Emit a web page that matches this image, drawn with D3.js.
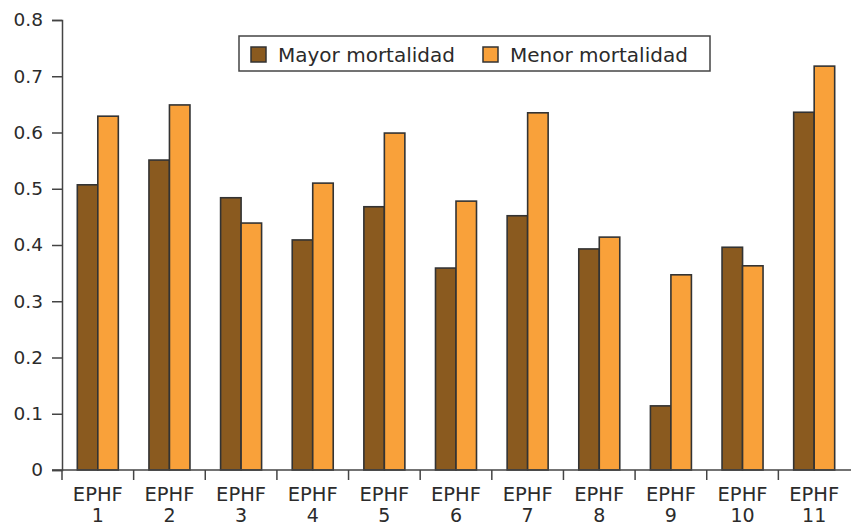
<!DOCTYPE html>
<html>
<head>
<meta charset="utf-8">
<script src="https://cdn.jsdelivr.net/npm/d3@7"></script>
<style>
	body { margin: 0; background: #fff; }
	text { font-family: "DejaVu Sans", sans-serif; fill: #2b2b2b; }
</style>
</head>
<body>
<div id="chart"></div>
<script>

// Data

var categories = ["1", "2", "3", "4", "5", "6", "7", "8", "9", "10", "11"];
var seriesNames = ["Mayor mortalidad", "Menor mortalidad"];
var mayor = [0.507, 0.551, 0.484, 0.409, 0.468, 0.359, 0.452, 0.393, 0.114, 0.396, 0.636];
var menor = [0.629, 0.649, 0.439, 0.510, 0.599, 0.478, 0.635, 0.414, 0.347, 0.363, 0.718];
var yTicks = [0, 0.1, 0.2, 0.3, 0.4, 0.5, 0.6, 0.7, 0.8];
var colors = ["#8a5a1f", "#f9a13a"];

var width = 851, height = 527;
var margin = {top: 20, right: 1, bottom: 57, left: 62};

var svg = d3.select("#chart").append("svg")
	.attr("width", width)
	.attr("height", height);

var x = d3.scaleBand()
	.domain(categories)
	.range([margin.left, width - margin.right])
	.paddingInner(0)
	.paddingOuter(0);

var y = d3.scaleLinear()
	.domain([0, 0.8])
	.range([height - margin.bottom, margin.top]);

var barW = 20.5;

var rows = categories.map(function (c, i) {
	return {cat: c, values: [mayor[i], menor[i]]};
});

// Bars
var groups = svg.selectAll("g.group")
	.data(rows)
	.enter().append("g")
	.attr("class", "group");

groups.selectAll("rect")
	.data(function (d) {
		return d.values.map(function (v, k) { return {cat: d.cat, v: v, k: k}; });
	})
	.enter().append("rect")
	.attr("x", function (d) { return x(d.cat) + x.bandwidth() / 2 - barW + d.k * barW; })
	.attr("y", function (d) { return y(d.v); })
	.attr("width", barW)
	.attr("height", function (d) { return y(0) - y(d.v); })
	.style("fill", function (d) { return colors[d.k]; })
	.style("stroke", "#333")
	.style("stroke-width", 1.6);

// Y axis
var yAxis = svg.append("g")
	.attr("transform", "translate(" + margin.left + ",0)")
	.call(d3.axisLeft(y).tickValues(yTicks).tickSize(10).tickPadding(9)
		.tickFormat(function (d) { return d === 0 ? "0" : d3.format(".1f")(d); }));

yAxis.select(".domain").attr("stroke", "#444").attr("stroke-width", 1.5);
yAxis.selectAll(".tick line").attr("stroke", "#444").attr("stroke-width", 1.5);
yAxis.selectAll(".tick text")
	.style("font-size", "18.5px")
	.attr("fill", "#2b2b2b");

// X axis baseline
svg.append("line")
	.attr("x1", margin.left - 10)
	.attr("x2", width)
	.attr("y1", y(0))
	.attr("y2", y(0))
	.attr("stroke", "#444")
	.attr("stroke-width", 1.5);

// Category separators
var bounds = categories.map(function (c) { return x(c); });
svg.selectAll("line.sep")
	.data(bounds)
	.enter().append("line")
	.attr("class", "sep")
	.attr("x1", function (d) { return d; })
	.attr("x2", function (d) { return d; })
	.attr("y1", y(0))
	.attr("y2", y(0) + 10)
	.attr("stroke", "#444")
	.attr("stroke-width", 1.5);

// Category labels (two lines)
svg.selectAll("text.cat")
	.data(categories)
	.enter().append("text")
	.attr("class", "cat")
	.attr("text-anchor", "middle")
	.attr("x", function (d) { return x(d) + x.bandwidth() / 2; })
	.attr("y", 501)
	.style("font-size", "19.5px")
	.text("EPHF");

svg.selectAll("text.num")
	.data(categories)
	.enter().append("text")
	.attr("class", "num")
	.attr("text-anchor", "middle")
	.attr("x", function (d) { return x(d) + x.bandwidth() / 2; })
	.attr("y", 522)
	.style("font-size", "19px")
	.text(function (d) { return d; });

// Legend
var legend = svg.append("g")
	.attr("transform", "translate(239,36)");

legend.append("rect")
	.attr("width", 471)
	.attr("height", 35)
	.style("fill", "#fff")
	.style("stroke", "#444")
	.style("stroke-width", 1.5);

var items = legend.selectAll("g.item")
	.data(seriesNames)
	.enter().append("g")
	.attr("class", "item")
	.attr("transform", function (d, i) { return "translate(" + (12 + i * 232) + ",0)"; });

items.append("rect")
	.attr("x", 0)
	.attr("y", 11)
	.attr("width", 15)
	.attr("height", 15)
	.style("fill", function (d, i) { return colors[i]; })
	.style("stroke", "#333")
	.style("stroke-width", 1.5);

items.append("text")
	.attr("x", 27)
	.attr("y", 26)
	.style("font-size", "20px")
	.text(function (d) { return d; });

</script>
</body>
</html>
